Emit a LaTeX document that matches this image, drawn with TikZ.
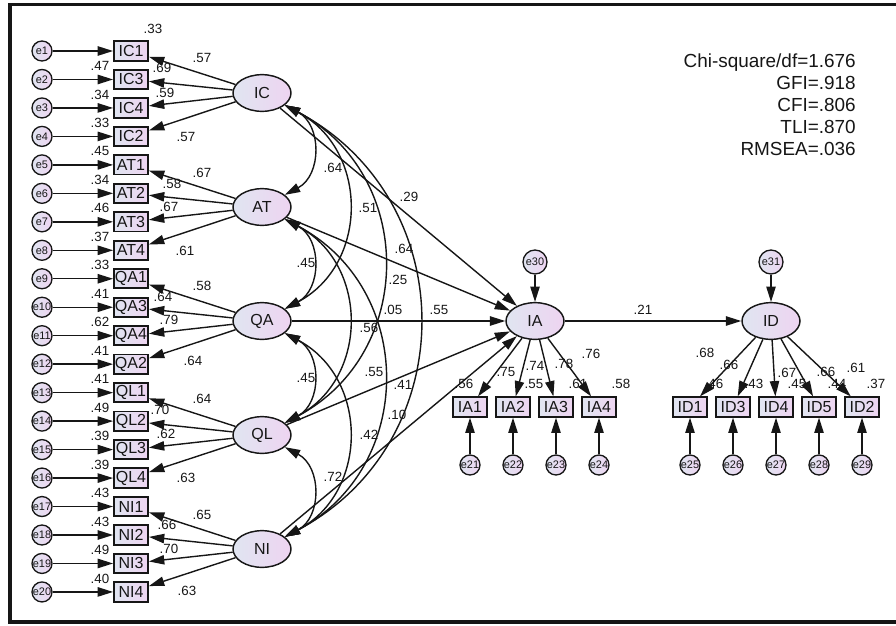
\documentclass[tikz,border=0pt]{standalone}
\usepackage{fontspec}
\setmainfont{Liberation Sans}
\usetikzlibrary{arrows.meta,shapes.geometric}

\definecolor{fillL}{RGB}{224,229,241}
\definecolor{fillR}{RGB}{238,212,241}
\definecolor{ink}{RGB}{22,22,22}

\tikzset{
  >={Triangle[length=11.5pt,width=7pt]},
  frame/.style={draw=ink,line width=2.3pt},
  latent/.style={ellipse,draw=ink,line width=1.1pt,minimum width=43.5pt,minimum height=27.5pt,
    inner sep=0pt,left color=fillL,right color=fillR,text=ink,font=\fontsize{12}{12}\selectfont},
  obs/.style={rectangle,draw=ink,line width=1.4pt,minimum width=25.5pt,minimum height=14.5pt,
    inner sep=0pt,left color=fillL,right color=fillR,text=ink,font=\fontsize{12}{12}\selectfont},
  err/.style={circle,draw=ink,line width=1pt,minimum size=15pt,inner sep=0pt,
    left color=fillL,right color=fillR,text=ink,font=\fontsize{8.2}{8.2}\selectfont},
  errbig/.style={err,minimum size=18pt},
  lbl/.style={inner sep=0pt,text=ink,font=\fontsize{10}{10}\selectfont},
  path/.style={->,draw=ink,line width=1.05pt},
  cov/.style={<->,draw=ink,line width=1.05pt},
  gof/.style={inner sep=0pt,text=ink,align=right,font=\fontsize{14.2}{16.5}\selectfont}
}

\begin{document}
\begin{tikzpicture}[x=0.75pt,y=0.75pt]
\useasboundingbox (0,0) rectangle (896,-625);
\draw[frame] (896,-4.5) -- (10,-4.5) -- (10,-622) -- (896,-622);

% exogenous latent factors
\node[latent] (IC) at (262,-93)  {IC};
\node[latent] (AT) at (262,-207) {AT};
\node[latent] (QA) at (262,-321) {QA};
\node[latent] (QL) at (262,-435) {QL};
\node[latent] (NI) at (262,-549) {NI};

% indicators of the exogenous factors with their error terms
\foreach \i/\nm/\rsq in {1/IC1/.33,2/IC3/.47,3/IC4/.34,4/IC2/.33,
    5/AT1/.45,6/AT2/.34,7/AT3/.46,8/AT4/.37,
    9/QA1/.33,10/QA3/.41,11/QA4/.62,12/QA2/.41,
    13/QL1/.41,14/QL2/.49,15/QL3/.39,16/QL4/.39,
    17/NI1/.43,18/NI2/.43,19/NI3/.49,20/NI4/.40}{
  \pgfmathsetmacro\yy{-51-(\i-1)*28.47}
  \node[err] (e\i) at (42,\yy) {e\i};
  \node[obs] (\nm) at (131,\yy) {\nm};
  \draw[path] (e\i) -- (\nm);
  \ifnum\i>1 \node[lbl] (sq\i) at (100,\yy+13.5) {\rsq}; \fi
}
\node[lbl] (sq1) at (153,-29) {.33};

% factor loadings
\foreach \f/\m in {IC/IC1,IC/IC3,IC/IC4,IC/IC2,AT/AT1,AT/AT2,AT/AT3,AT/AT4,
    QA/QA1,QA/QA3,QA/QA4,QA/QA2,QL/QL1,QL/QL2,QL/QL3,QL/QL4,NI/NI1,NI/NI2,NI/NI3,NI/NI4}
  \draw[path] (\f) -- (\m);

\foreach \n/\px/\py/\t in {la1/202/58/.57,la2/162/68/.69,la3/165/93/.59,la4/186/137/.57,
    la5/202/173/.67,la6/172/184/.58,la7/169/207/.67,la8/185/251/.61,
    la9/202/286/.58,la10/163/297/.64,la11/169/320/.79,la12/193/361/.64,
    la13/202/399/.64,la14/160/410/.70,la15/166/434/.62,la16/186/478/.63,
    la17/202/515/.65,la18/167/525/.66,la19/169/549/.70,la20/187/591/.63}
  \node[lbl] (\n) at (\px,-\py) {\t};

% mediator and outcome
\node[latent] (IA) at (535,-321) {IA};
\node[latent] (ID) at (771,-321) {ID};
\node[errbig] (e30) at (535,-262) {e30};
\node[errbig] (e31) at (771,-262) {e31};
\draw[path] (e30) -- (IA);
\draw[path] (e31) -- (ID);

% correlations among the exogenous factors
\foreach \a/\b in {IC/AT,IC/QA,IC/QL,IC/NI,AT/QA,AT/QL,AT/NI,QA/QL,QA/NI,QL/NI}
  \draw[cov] (\a) to[out=-28,in=28,looseness=1.2] (\b);

% structural paths
\foreach \a in {IC,AT,QA,QL,NI}
  \draw[path] (\a) -- (IA);
\draw[path] (IA) -- (ID);

\foreach \n/\px/\py/\t in {m1/333/168/.64,m2/368/208/.51,m3/409/197/.29,m4/306/263/.45,
    m5/404/249/.64,m6/398/280/.25,m7/393/310/.05,m8/439/310/.55,m9/369/328/.56,
    m10/306/378/.45,m11/374/372/.55,m12/403/385/.41,m13/397/415/.10,m14/369/435/.42,
    m15/333/477/.72,m16/643/310/.21}
  \node[lbl] (\n) at (\px,-\py) {\t};

% indicators of IA
\foreach \i/\px in {1/470,2/513,3/556,4/599}{
  \pgfmathtruncatemacro\en{20+\i}
  \node[obs] (IA\i) at (\px,-407) {IA\i};
  \node[err] (e\en) at (\px,-465) {e\en};
  \draw[path] (IA) -- (IA\i);
  \draw[path] (e\en) -- (IA\i);
}

% indicators of ID
\foreach \i/\nm/\px in {25/ID1/690,26/ID3/733,27/ID4/776,28/ID5/819,29/ID2/862}{
  \node[obs] (\nm) at (\px,-407) {\nm};
  \node[err] (e\i) at (\px,-465) {e\i};
  \draw[path] (ID) -- (\nm);
  \draw[path] (e\i) -- (\nm);
}

\foreach \n/\px/\py/\t in {r1/464/384/.56,r2/506/372/.75,r3/535/366/.74,r4/534/384/.55,
    r5/564/364/.78,r6/578/384/.61,r7/591/354/.76,r8/621/384/.58,
    r9/705/353/.68,r10/729/365/.66,r11/714/384/.46,r12/754/384/.43,r13/787/373/.67,
    r14/797/384/.45,r15/826/372/.66,r16/837/384/.44,r17/856/368/.61,r18/876/384/.37}
  \node[lbl] (\n) at (\px,-\py) {\t};

% fit indices
\node[gof,anchor=east] (fit) at (856,-105)
  {Chi-square/df=1.676\\GFI=.918\\CFI=.806\\TLI=.870\\RMSEA=.036};
\end{tikzpicture}
\end{document}
